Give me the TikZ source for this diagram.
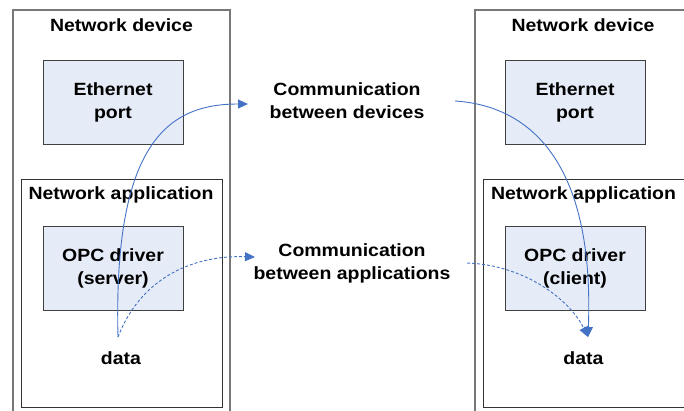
\documentclass[tikz,border=0pt]{standalone}
\usepackage{fontspec}
\setmainfont{Liberation Sans}[FakeStretch=1.1]
\usetikzlibrary{arrows.meta}
\definecolor{boxfill}{RGB}{230,236,247}
\definecolor{flow}{RGB}{68,114,196}
\definecolor{frame}{RGB}{120,120,120}
\begin{document}
\begin{tikzpicture}[x=1pt,y=-1pt,
  lbl/.style={font=\bfseries\fontsize{17.7}{23}\selectfont, align=center, inner sep=0pt},
  devicebox/.style={draw=frame, line width=1.4pt},
  appbox/.style={draw=black!80, line width=0.9pt},
  partbox/.style={draw=black!75, line width=0.9pt, fill=boxfill},
  flowline/.style={draw=flow, line width=0.9pt, -{Triangle[length=10pt,width=9pt]}},
  flowdash/.style={flowline, dash pattern=on 3pt off 2pt}]
\useasboundingbox (0,0) rectangle (684,410);
\clip (0,0) rectangle (684,410);
\fill[white] (0,0) rectangle (684,410);

% left device: server side
\draw[devicebox] (13,10) rectangle (230,430);
\node[lbl] (devL) at (121.5,25) {Network device};
\draw[partbox] (43,60) rectangle (183,144);
\node[lbl] (ethL) at (113,102) {Ethernet\\port};
\draw[appbox] (21,179) rectangle (222,407);
\node[lbl] (appL) at (121,195) {Network application};
\draw[partbox] (43,226) rectangle (183,310);
\node[lbl] (opcL) at (113,268) {OPC driver\\(server)};
\node[lbl] (dataL) at (121,358) {data};

% right device: client side
\draw[devicebox] (475,10) rectangle (700,430);
\node[lbl] (devR) at (583,25) {Network device};
\draw[partbox] (505,60) rectangle (645,144);
\node[lbl] (ethR) at (575,102) {Ethernet\\port};
\draw[appbox] (483,179) rectangle (700,407);
\node[lbl] (appR) at (583.5,195) {Network application};
\draw[partbox] (505,226) rectangle (645,310);
\node[lbl] (opcR) at (575,268) {OPC driver\\(client)};
\node[lbl] (dataR) at (583.5,358) {data};

% communication labels
\node[lbl] (commDev) at (347,101) {Communication\\between devices};
\node[lbl] (commApp) at (352,263.5) {Communication\\between applications};

% flow end points
\coordinate (srcL) at (118,337);
\coordinate (dstR) at (588,337);
\coordinate (devIn) at (248,104);
\coordinate (devOut) at (455,101);
\coordinate (appIn) at (255,257);
\coordinate (appOut) at (467,263);

\draw[flowline] (srcL) .. controls (113,140) and (170,104) .. (devIn);
\draw[flowline] (devOut) .. controls (520,105) and (595,150) .. (dstR);
\draw[flowdash] (srcL) .. controls (140,280) and (190,255) .. (appIn);
\draw[flowdash] (appOut) .. controls (525,265) and (570,300) .. (dstR);
\end{tikzpicture}
\end{document}
